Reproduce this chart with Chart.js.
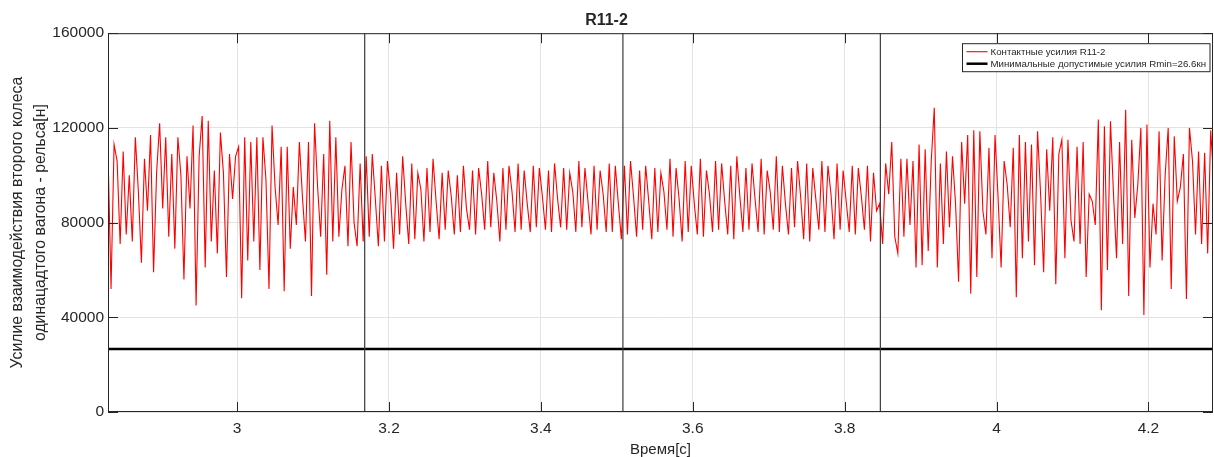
<!DOCTYPE html>
<html>
<head>
<meta charset="utf-8">
<script src="https://cdn.jsdelivr.net/npm/chart.js@4/dist/chart.umd.min.js"></script>
<style>
  html, body { margin: 0; padding: 0; background: #fff; }
  #wrap { width: 1214px; height: 457px; }
</style>
</head>
<body>
<div id="wrap"><canvas id="canvas1"></canvas></div>
<script>
var startTime = 2.83;
var sampleStep = 0.004;

// before the first marker (t < 3.168)
var forceLeft = [
  110000, 52000, 113000, 106000, 71000, 110000, 75000, 100000, 72000, 116000,
  93000, 63000, 107000, 85000, 117000, 59000, 101000, 122000, 86000, 116000,
  74000, 109000, 69000, 116000, 100000, 56000, 108000, 86000, 121000, 45000,
  108000, 125000, 61000, 123000, 72000, 102000, 67000, 118000, 101000, 57000,
  109000, 90000, 108000, 112000, 48000, 116000, 64000, 114000, 72000, 116000,
  60000, 116000, 98000, 52000, 121000, 95000, 79000, 112000, 51000, 112000,
  69000, 95000, 79000, 114000, 91000, 72000, 114000, 49000, 122000, 95000,
  74000, 109000, 58000, 123000, 72000, 116000, 74000, 94000, 104000, 70000,
  114000, 80000, 70000, 105000, 72000
];

// between the first and the third marker
var forceMid = [
  108000, 74000, 109000, 90000, 70000,
  104000, 72000, 106000, 92000, 69000,
  101000, 75000, 108000, 88000, 71000,
  105000, 73000, 101000, 94000, 72000,
  103000, 76000, 107000, 89000, 73000,
  101000, 77000, 102000, 91000, 75000,
  100000, 76000, 104000, 86000, 77000,
  102000, 75000, 103000, 92000, 77000,
  106000, 78000, 101000, 89000, 72000,
  103000, 77000, 104000, 93000, 76000,
  105000, 77000, 102000, 88000, 76000,
  104000, 78000, 103000, 91000, 77000,
  102000, 76000, 105000, 90000, 78000,
  103000, 77000, 101000, 93000, 76000,
  106000, 78000, 103000, 89000, 75000,
  104000, 77000, 102000, 92000, 76000,
  105000, 76000, 104000, 88000, 73000,
  104000, 75000, 106000, 91000, 74000,
  102000, 77000, 104000, 89000, 73000,
  103000, 76000, 101000, 93000, 77000,
  107000, 74000, 103000, 90000, 72000,
  106000, 76000, 104000, 88000, 75000,
  107000, 74000, 102000, 92000, 76000,
  106000, 77000, 105000, 89000, 75000,
  104000, 73000, 108000, 91000, 76000,
  103000, 77000, 105000, 90000, 76000,
  107000, 75000, 102000, 93000, 77000,
  108000, 76000, 104000, 88000, 75000,
  103000, 78000, 106000, 91000, 73000,
  105000, 72000, 103000, 90000, 77000,
  106000, 76000, 104000, 92000, 73000,
  105000, 77000, 102000, 89000, 76000,
  104000, 75000, 103000, 91000, 77000,
  104000, 72000, 101000, 85000
];

// after the third marker
var forceRight = [
  88000, 71000, 105000, 92000, 114000, 74000, 67000, 107000, 74000, 107000,
  79000, 106000, 61000, 113000, 62000, 111000, 68000, 106000, 128500, 61000,
  105000, 71000, 110000, 78000, 108000, 88000, 55000, 114000, 88000, 117000,
  50000, 119000, 57000, 118600, 85000, 75000, 111600, 65000, 117000, 90500,
  61000, 106000, 96000, 78000, 111600, 48500, 117000, 65000, 114000, 72000,
  113000, 62000, 118600, 92000, 59000, 111000, 85000, 116000, 54000, 109000,
  115000, 65000, 115000, 81000, 72000, 112000, 71000, 114000, 57000, 92000,
  89000, 79000, 123500, 43000, 120700, 60000, 122800, 92000, 65000, 114000,
  71000, 127700, 49000, 115000, 82000, 96000, 120000, 41000, 121400, 61000,
  88000, 75000, 118600, 64000, 100000, 120000, 52000, 116500, 89000, 95000,
  109000, 47700, 120000, 106000, 75000, 110000, 71000, 109500, 67000, 119000,
  97500
];

var rMin = 26600;
var markerTimes = [3.168, 3.508, 3.847];
var xMin = 2.83, xMax = 4.285;
var yTicks = [0, 40000, 80000, 120000, 160000];

var forces = forceLeft.concat(forceMid, forceRight);
var signal = forces.map(function(v, i) {
  return { x: startTime + i * sampleStep, y: v };
});

var markerSets = markerTimes.map(function(t) {
  return {
    label: 'marker',
    data: [{ x: t, y: yTicks[0] }, { x: t, y: yTicks[yTicks.length - 1] }],
    borderColor: '#3a3a3a',
    borderWidth: 1.2,
    pointRadius: 0
  };
});

var axisColor = '#262626';
var fontFamily = '"Liberation Sans", Arial, sans-serif';

// box, inward ticks and the legend inside the axes (MATLAB look)
var framePlugin = {
  id: 'frame',
  afterDraw: function(chart) {
    var ctx = chart.ctx, a = chart.chartArea;
    var xs = chart.scales.x, ys = chart.scales.y;
    ctx.save();
    ctx.strokeStyle = axisColor;
    ctx.lineWidth = 1;
    ctx.strokeRect(a.left + 0.5, a.top + 0.5, a.right - a.left - 1, a.bottom - a.top - 1);

    ctx.beginPath();
    xs.ticks.forEach(function(t) {
      var px = Math.round(xs.getPixelForValue(t.value)) + 0.5;
      ctx.moveTo(px, a.bottom); ctx.lineTo(px, a.bottom - 10);
      ctx.moveTo(px, a.top); ctx.lineTo(px, a.top + 10);
    });
    ys.ticks.forEach(function(t) {
      var py = Math.round(ys.getPixelForValue(t.value)) + 0.5;
      ctx.moveTo(a.left, py); ctx.lineTo(a.left + 10, py);
      ctx.moveTo(a.right, py); ctx.lineTo(a.right - 10, py);
    });
    ctx.stroke();

    // legend, in the order of legendRank
    var items = chart.data.datasets.filter(function(d) { return d.legendRank !== undefined; })
      .sort(function(p, q) { return p.legendRank - q.legendRank; });
    ctx.font = '9.7px ' + fontFamily;
    var textW = 0;
    items.forEach(function(d) { textW = Math.max(textW, ctx.measureText(d.label).width); });
    var boxW = 4 + 21 + 3 + textW + 4;
    var boxH = 28;
    var bx = Math.round(a.right - 4 - boxW) + 0.5;
    var by = a.top + 10.5;
    ctx.fillStyle = '#fff';
    ctx.fillRect(bx, by, boxW, boxH);
    ctx.strokeStyle = axisColor;
    ctx.lineWidth = 1;
    ctx.strokeRect(bx, by, boxW, boxH);
    items.forEach(function(d, i) {
      var ly = by + 8 + i * 12;
      ctx.beginPath();
      ctx.strokeStyle = d.borderColor;
      ctx.lineWidth = d.borderWidth;
      ctx.moveTo(bx + 4, ly); ctx.lineTo(bx + 25, ly);
      ctx.stroke();
      ctx.fillStyle = axisColor;
      ctx.textBaseline = 'middle';
      ctx.textAlign = 'left';
      ctx.fillText(d.label, bx + 28, ly + 0.5);
    });
    ctx.restore();
  }
};

var config1 = {
  type: 'line',
  data: {
    datasets: markerSets.concat([
      {
        label: 'Минимальные допустимые усилия Rmin=26.6кн',
        data: [{ x: xMin, y: rMin }, { x: xMax, y: rMin }],
        borderColor: '#000000',
        borderWidth: 2.5,
        pointRadius: 0,
        legendRank: 2
      },
      {
        label: 'Контактные усилия R11-2',
        data: signal,
        borderColor: '#ff0000',
        borderWidth: 1.1,
        pointRadius: 0,
        tension: 0,
        legendRank: 1
      }
    ])
  },
  options: {
    responsive: true,
    maintainAspectRatio: false,
    animation: false,
    layout: { padding: { left: 0, right: 1, top: 0, bottom: 0 } },
    plugins: {
      legend: { display: false },
      tooltip: { enabled: false },
      title: {
        display: true,
        text: 'R11-2',
        color: axisColor,
        font: { family: fontFamily, size: 16, weight: 'bold', lineHeight: 1.2 },
        padding: { top: 11, bottom: 3 }
      }
    },
    scales: {
      x: {
        type: 'linear',
        min: xMin,
        max: xMax,
        border: { display: false },
        grid: { color: '#e3e3e3', lineWidth: 1, drawTicks: false, tickLength: 0 },
        ticks: {
          stepSize: 0.2,
          includeBounds: false,
          padding: 7,
          color: axisColor,
          maxRotation: 0,
          font: { family: fontFamily, size: 15.5 },
          callback: function(v) { return String(Number(v.toFixed(1))); }
        },
        title: {
          display: true,
          text: 'Время[с]',
          color: axisColor,
          font: { family: fontFamily, size: 15, lineHeight: 1.0 },
          padding: { top: 0, bottom: 0 }
        },
        afterFit: function(scale) { scale.height = 45; }
      },
      y: {
        type: 'linear',
        min: yTicks[0],
        max: yTicks[yTicks.length - 1],
        border: { display: false },
        grid: { color: '#e3e3e3', lineWidth: 1, drawTicks: false, tickLength: 0 },
        ticks: {
          stepSize: 40000,
          padding: 4,
          color: axisColor,
          font: { family: fontFamily, size: 15.5 },
          callback: function(v) { return String(v); }
        },
        title: {
          display: true,
          text: ['Усилие взаимодействия второго колеса', 'одинацадтого вагона - рельса[н]'],
          color: axisColor,
          font: { family: fontFamily, size: 15.8, lineHeight: 1.4 },
          padding: { top: 7, bottom: 0 }
        },
        afterFit: function(scale) { scale.width = 108; }
      }
    }
  },
  plugins: [framePlugin]
};

window.onload = function() {
  var ctx1 = document.getElementById('canvas1').getContext('2d');
  window.myLine = new Chart(ctx1, config1);
};
</script>
</body>
</html>
